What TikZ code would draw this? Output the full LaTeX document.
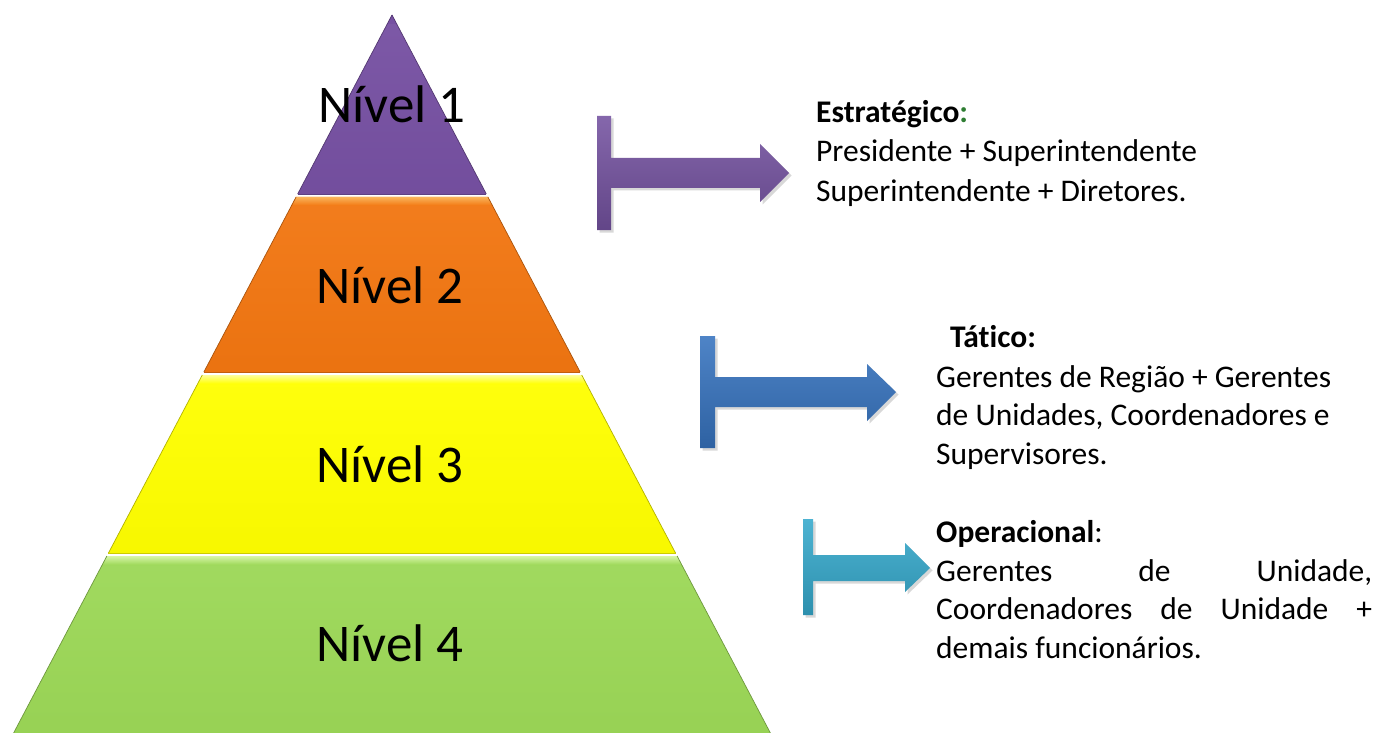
\documentclass[tikz,border=0pt]{standalone}
\usepackage{fontspec}
\setmainfont[Ligatures=NoCommon]{Carlito}
\usetikzlibrary{shadows}

\definecolor{lvlpurple}{HTML}{7650A2}
\definecolor{lvlpurplelt}{HTML}{8E68BC}
\definecolor{lvlorange}{HTML}{F27611}
\definecolor{lvlorangelt}{HTML}{FAB45A}
\definecolor{lvlyellow}{HTML}{FFFF00}
\definecolor{lvlyellowlt}{HTML}{FFFF9A}
\definecolor{lvlgreen}{HTML}{9CD857}
\definecolor{lvlgreenlt}{HTML}{D8F5A8}
\definecolor{arrpurple}{HTML}{7452A0}
\definecolor{arrblue}{HTML}{3673BF}
\definecolor{arrcyan}{HTML}{35A9CC}
\definecolor{colongreen}{HTML}{2E7D32}

% one horizontal slice of the pyramid: #1 top y, #2 bottom y, #3 colour, #4 highlight colour
\newcommand\pyrband[4]{%
  \pgfmathsetmacro\tlx{392-0.527*(#1-15)}%
  \pgfmathsetmacro\trx{392+0.527*(#1-15)}%
  \pgfmathsetmacro\blx{392-0.527*(#2-15)}%
  \pgfmathsetmacro\brx{392+0.527*(#2-15)}%
  \pgfmathsetmacro\hly{#1+9}%
  \pgfmathsetmacro\hllx{392-0.527*(\hly-15)}%
  \pgfmathsetmacro\hlrx{392+0.527*(\hly-15)}%
  \shade[top color=#3!95!white, bottom color=#3!97!black]
    (\tlx,#1) -- (\trx,#1) -- (\brx,#2) -- (\blx,#2) -- cycle;
  \shade[top color=#4, bottom color=#3]
    (\tlx,#1) -- (\trx,#1) -- (\hlrx,\hly) -- (\hllx,\hly) -- cycle;
  \draw[#3!70!black, line width=0.7pt] (\tlx,#1) -- (\blx,#2);
  \draw[#3!70!black, line width=0.7pt] (\trx,#1) -- (\brx,#2);
  \draw[#3!80!black, line width=0.5pt] (\blx,#2) -- (\brx,#2);
}

\tikzset{
  level/.style={font=\fontsize{53}{60}\selectfont, inner sep=0pt, text=black},
  desc/.style={font=\fontsize{31.5}{38}\selectfont, inner sep=0pt, anchor=base west},
  tarrow/.style={drop shadow={shadow xshift=2.5pt, shadow yshift=-2.5pt, opacity=0.3},
                 top color=#1!88!white, bottom color=#1!85!black}
}

\begin{document}
\begin{tikzpicture}[x=1pt,y=-1pt]
\useasboundingbox (0,0) rectangle (1377,733);
\fill[white] (0,0) rectangle (1377,733);

% pyramid slices
\pyrband{15}{194}{lvlpurple}{lvlpurple}
\pyrband{197}{372}{lvlorange}{lvlorangelt}
\pyrband{375}{553}{lvlyellow}{lvlyellowlt}
\pyrband{556}{733}{lvlgreen}{lvlgreenlt}

% level labels
\node[level] (n1) at (392,104) {Nível 1};
\node[level] (n2) at (390,285) {Nível 2};
\node[level] (n3) at (390,464) {Nível 3};
\node[level] (n4) at (390,643) {Nível 4};

% T-shaped arrows
\path[tarrow=arrpurple]
  (597,116) -- (611,116) -- (611,158) -- (760,158) -- (760,144) -- (789,173)
  -- (760,202) -- (760,188) -- (611,188) -- (611,230) -- (597,230) -- cycle;
\path[tarrow=arrblue]
  (700,336) -- (715,336) -- (715,377) -- (867,377) -- (867,364) -- (896,392)
  -- (867,421) -- (867,407) -- (715,407) -- (715,448) -- (700,448) -- cycle;
\path[tarrow=arrcyan]
  (803,519) -- (813,519) -- (813,555) -- (905,555) -- (905,543) -- (930,568)
  -- (905,592) -- (905,581) -- (813,581) -- (813,615) -- (803,615) -- cycle;

% strategic level
\node[desc] (e0) at (816,123) {\textbf{Estratégico\textcolor{colongreen}{:}}};
\node[desc] (e1) at (816,162) {Presidente + Superintendente};
\node[desc] (e2) at (816,201) {Superintendente + Diretores.};

% tactical level
\node[desc] (t0) at (950,347) {\textbf{Tático:}};
\node[desc] (t1) at (936,387) {Gerentes de Região + Gerentes};
\node[desc] (t2) at (936,425) {de Unidades, Coordenadores e};
\node[desc] (t3) at (936,464) {Supervisores.};

% operational level (justified lines)
\node[desc] (o0) at (936,542) {\textbf{Operacional}:};
\node[desc] (o1) at (936,581) {\makebox[436pt][s]{Gerentes de Unidade,}};
\node[desc] (o2) at (936,619) {\makebox[436pt][s]{Coordenadores de Unidade +}};
\node[desc] (o3) at (936,658) {demais funcionários.};
\end{tikzpicture}
\end{document}
